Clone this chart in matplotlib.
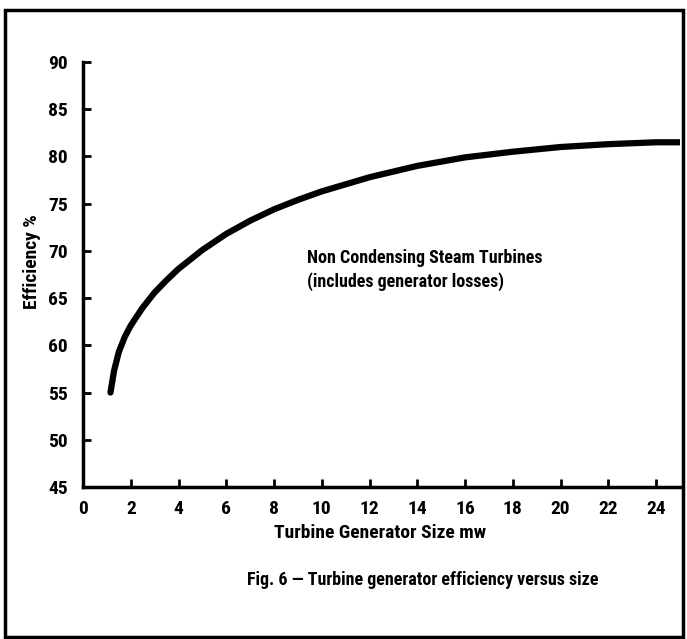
import matplotlib.pyplot as plt
from matplotlib.patches import Rectangle

# curve
size_mw = [1.15, 1.3, 1.5, 1.75, 2.0, 2.5, 3.0, 3.5, 4.0, 5.0, 6.0, 7.0, 8.0, 9.0, 10.0,
           12.0, 14.0, 16.0, 18.0, 20.0, 22.0, 24.0, 25.0]
efficiency = [55.0, 57.3, 59.3, 60.9, 62.1, 64.0, 65.6, 66.9, 68.1, 70.1, 71.8, 73.2, 74.4, 75.4, 76.3,
              77.8, 79.0, 79.9, 80.5, 81.0, 81.3, 81.5, 81.5]
x_ticks = list(range(0, 25, 2))
y_ticks = list(range(45, 91, 5))

plt.rcParams['font.family'] = ['Roboto Condensed', 'Liberation Sans', 'DejaVu Sans']

W, H = 687, 639
fig = plt.figure(figsize=(6.87, 6.39), dpi=100)
ax = fig.add_axes([83 / W, 1 - 487 / H, 597 / W, 425 / H])

ax.plot(size_mw, efficiency, color='black', linewidth=4.5, solid_capstyle='round')

ax.set_xlim(0, 25)
ax.set_ylim(45, 90)
ax.set_xticks(x_ticks)
ax.set_yticks(y_ticks)
ax.tick_params(direction='in', length=6, width=2, labelsize=14)
ax.tick_params(axis='y', pad=11)
ax.tick_params(axis='x', pad=9)
for lab in ax.get_xticklabels() + ax.get_yticklabels():
    lab.set_fontweight('bold')

for s in ['top', 'right']:
    ax.spines[s].set_visible(False)
for s in ['left', 'bottom']:
    ax.spines[s].set_linewidth(2.5)

fig.text(380 / W, 1 - 533 / H, 'Turbine Generator Size mw', fontsize=14, fontweight='bold',
         ha='center', va='center')
fig.text(32 / W, 1 - 262 / H, 'Efficiency %', fontsize=14, fontweight='bold', rotation=90,
         ha='center', va='center')

ax.text(9.4, 69.2, 'Non Condensing Steam Turbines', fontsize=13, fontweight='bold', va='center')
ax.text(9.4, 66.7, '(includes generator losses)', fontsize=13, fontweight='bold', va='center')

fig.text(423 / W, 1 - 580 / H, 'Fig. 6 \u2014 Turbine generator efficiency versus size',
         fontsize=13, fontweight='bold', ha='center', va='center')

# frame around the whole figure
fig.patches.append(Rectangle((5 / W, 2 / H), 678 / W, 627 / H, transform=fig.transFigure,
                             fill=False, edgecolor='black', linewidth=2.5))

fig.savefig('out.png', dpi=100)
